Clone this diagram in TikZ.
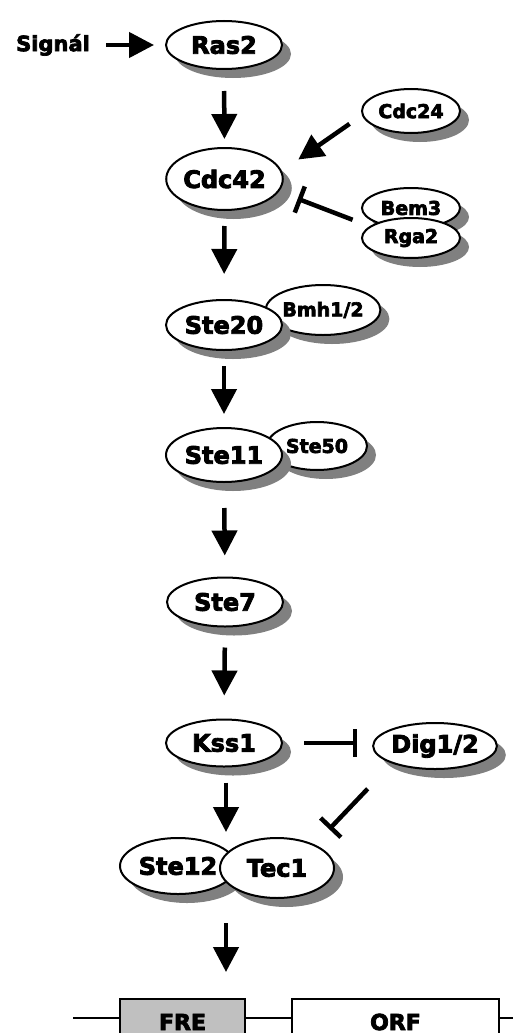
\documentclass[tikz,border=0pt]{standalone}
\usepackage{fontspec}
\setmainfont{DejaVu Sans}[BoldFeatures={FakeBold=3.5}]
\usetikzlibrary{shapes.geometric,shadows,arrows.meta,calc}
\definecolor{shadegray}{HTML}{808080}
\definecolor{fregray}{HTML}{C0C0C0}
\tikzset{
  protein/.style={ellipse, draw=black, line width=2pt, fill=white, inner sep=0pt,
    font=\bfseries\fontsize{24}{24}\selectfont,
    drop shadow={shadow xshift=9pt, shadow yshift=-9pt, fill=shadegray, opacity=1}},
  small/.style={font=\bfseries\fontsize{19}{19}\selectfont},
  act/.style={line width=4.5pt, -{Triangle[width=25pt,length=25pt]}},
  inh/.style={line width=4.5pt, -{Bar[width=28pt]}},
  gene/.style={rectangle, draw=black, line width=2pt, minimum height=50pt, inner sep=0pt,
    text height=12pt, text depth=0pt,
    font=\bfseries\fontsize{22}{22}\selectfont},
  dna/.style={line width=1.5pt}
}
\begin{document}
\begin{tikzpicture}[x=1pt,y=-1pt]
\path[use as bounding box] (0,0) rectangle (513,1033);
\clip (0,0) rectangle (513,1033);

% signal input
\node[font=\bfseries\fontsize{21}{21}\selectfont, inner sep=0pt] (signal) at (53,45) {Signál};
\node[protein, minimum width=116pt, minimum height=48pt] (ras2) at (224,45) {Ras2};
\draw[act] (signal.east) -- (ras2.west) [shorten <=16pt, shorten >=11pt];

% Cdc42 module
\node[protein, minimum width=116pt, minimum height=62pt] (cdc42) at (224.5,179) {Cdc42};
\node[protein, small, minimum width=98pt, minimum height=44pt] (cdc24) at (411,111) {Cdc24};
\node[protein, small, minimum width=98pt, minimum height=40pt] (bem3) at (411,208) {Bem3};
\node[protein, small, minimum width=98pt, minimum height=40pt] (rga2) at (411,238) {Rga2};
\coordinate (gap) at ($(bem3.west)!0.5!(rga2.west)$);

% kinase cascade
\node[protein, small, minimum width=112pt, minimum height=50pt] (bmh) at (323,310) {Bmh1/2};
\node[protein, minimum width=116pt, minimum height=50pt] (ste20) at (224,325) {Ste20};
\node[protein, small, minimum width=100pt, minimum height=48pt] (ste50) at (317,446) {Ste50};
\node[protein, minimum width=116pt, minimum height=54pt] (ste11) at (224,455) {Ste11};
\node[protein, minimum width=116pt, minimum height=49pt] (ste7) at (225,602) {Ste7};
\node[protein, minimum width=116pt, minimum height=47pt] (kss1) at (224,743) {Kss1};
\node[protein, minimum width=114pt, minimum height=46pt] (dig) at (435,746) {Dig1/2};

% transcription factor complex
\node[protein, minimum width=116pt, minimum height=56pt] (ste12) at (178,866) {Ste12};
\node[protein, minimum width=114pt, minimum height=60pt] (tec1) at (277,868) {Tec1};
\coordinate (tftop) at (226,840);
\coordinate (tfbot) at (226,900);

% promoter
\coordinate (dnaL) at (73,1018);
\coordinate (dnaR) at (513,1018);
\draw[dna] (dnaL) -- (dnaR);
\node[gene, fill=fregray, minimum width=125pt] (fre) at (182.5,1024) {FRE};
\node[gene, fill=white, minimum width=207pt] (orf) at (395.5,1024) {ORF};

% connections
\draw[act] (ras2.south) -- (cdc42.north) [shorten <=21pt, shorten >=8pt];
\draw[act] (cdc24.185) -- (cdc42.8) [shorten <=15pt, shorten >=20pt];
\draw[inh] (gap) -- (cdc42.-13) [shorten <=9pt, shorten >=20pt];
\draw[act] (cdc42.south) -- (ste20.north) [shorten <=15pt, shorten >=25pt];
\draw[act] (ste20.south) -- (ste11.north) [shorten <=15pt, shorten >=13pt];
\draw[act] (ste11.south) -- (ste7.north) [shorten <=25pt, shorten >=21pt];
\draw[act] (ste7.south) -- (kss1.north) [shorten <=20pt, shorten >=23pt];
\draw[inh] (kss1.east) -- (kss1.east -| dig.west) [shorten <=21pt, shorten >=15pt];
\draw[act] (kss1.south -| tftop) -- (tftop) [shorten <=15pt, shorten >=8pt];
\draw[inh] (dig.202) -- (tec1.32) [shorten <=35pt, shorten >=21pt];
\draw[act] (tfbot) -- (tfbot |- fre.north) [shorten <=23pt, shorten >=26pt];
\end{tikzpicture}
\end{document}
